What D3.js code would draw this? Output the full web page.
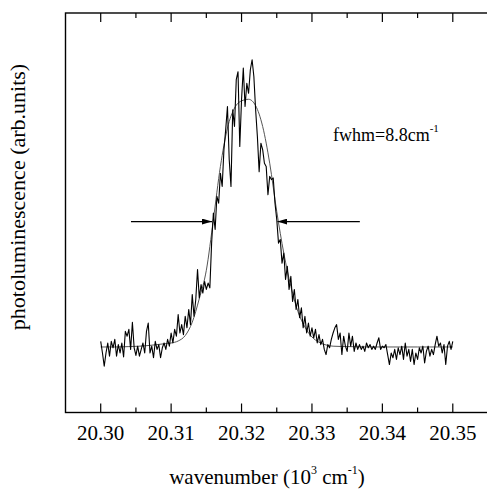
<!DOCTYPE html>
<html>
<head>
<meta charset="utf-8">
<script src="https://cdn.jsdelivr.net/npm/d3@7"></script>
<style>
  body { margin: 0; background: #fff; }
  svg { display: block; font-family: "Liberation Serif", "Times New Roman", serif; }
</style>
</head>
<body>
<svg id="chart" width="487" height="489"></svg>
<script>
// measured spectrum, 20.300 .. 20.350 (10^3 cm-1), step 0.00025
const counts = [
  17.8, 14.9, 11.6, 14.9, 17.4, 14.1, 17.8, 16.2, 18.3, 14.1,
  17.0, 14.9, 17.4, 13.9, 20.3, 19.1, 20.8, 15.8, 22.6, 16.2,
  14.3, 16.6, 14.1, 15.8, 17.4, 14.9, 20.3, 22.4, 14.9, 16.6,
  13.7, 17.8, 15.8, 17.0, 13.7, 16.2, 17.4, 15.8, 18.3, 16.6,
  19.9,
  17.4, 20.8, 19.1, 24.5, 19.9, 22.0, 19.5, 24.1, 21.2, 25.8,
  22.0, 29.5, 24.1, 28.3, 35.8, 28.7, 32.0, 29.9, 32.8, 30.8,
  32.4, 31.2, 42.4, 49.9,
  45.8, 54.1, 52.4, 59.9, 56.6, 65.8, 70.8, 76.6, 63.3, 56.6,
  75.8, 71.6, 83.3, 85.3, 66.6, 78.3, 86.2, 76.6, 82.4, 79.9,
  85.8, 88.3, 84.1, 75.8, 69.1, 60.3, 67.4, 65.8, 62.4, 61.6,
  54.5, 59.1,
  58.3, 58.7, 52.4, 48.3, 42.4, 43.3, 37.4, 39.9, 33.3, 36.6,
  30.8, 34.1, 27.8, 30.8, 25.8, 28.3, 23.7, 26.2, 21.2, 24.1,
  19.9, 22.4, 19.1, 21.2, 18.7, 20.8, 17.4, 19.5, 17.0, 18.3,
  15.8, 14.5, 17.0, 16.2,
  18.3, 19.9, 21.2, 22.0, 18.3, 19.9, 14.5, 19.1, 16.6, 15.3,
  19.9, 16.6, 19.1, 15.3, 17.4, 15.8, 17.0, 15.8, 16.6, 15.3,
  17.4, 16.2, 17.0, 15.8, 16.6, 15.8, 17.4, 18.7, 15.8, 16.6,
  16.2, 17.0, 14.5, 12.0, 14.9, 13.7, 15.8, 13.3, 16.2, 14.5,
  16.6, 13.3, 17.4, 14.1, 15.8, 12.8, 15.8, 12.0, 14.9, 13.3,
  16.2, 14.9, 16.6, 12.4, 15.3, 16.6, 14.1, 15.8, 14.5, 17.0,
  19.1, 16.6, 17.4, 14.9, 17.0, 12.0, 16.6, 17.8, 15.8, 17.8
];
const scanStart = 20.300;
const scanStep = 0.00025;

// fitted line shape
const fitX = [20.300, 20.302, 20.304, 20.306, 20.307, 20.308, 20.309, 20.310, 20.311,
  20.312, 20.313, 20.314, 20.315, 20.316, 20.317, 20.318, 20.319, 20.320, 20.321,
  20.322, 20.323, 20.324, 20.325, 20.326, 20.327, 20.328, 20.329, 20.330, 20.331,
  20.332, 20.333, 20.335, 20.340, 20.345, 20.350];
const fitY = [16.4, 16.4, 16.5, 16.65, 16.8, 17.0, 17.2, 17.4, 17.9,
  19.25, 22.6, 28.5, 35.6, 48.3, 61.6, 71.2, 76.2, 78.0, 78.4,
  76.8, 71.6, 62.4, 50.3, 39.9, 31.6, 25.3, 21.4, 18.9, 17.6,
  16.9, 16.6, 16.5, 16.4, 16.4, 16.4];

const xTicks = [20.30, 20.31, 20.32, 20.33, 20.34, 20.35];
const xMinorTicks = [20.305, 20.315, 20.325, 20.335, 20.345];

// half-maximum markers
const fwhmArrows = [
  {from: 20.3043, to: 20.3158, level: 47.8},
  {from: 20.3368, to: 20.3251, level: 47.8}
];

class Spectrum {
  constructor(_config) {
    this.config = {
      parentElement: _config.parentElement,
      left: 65.5, right: 488, top: 13, bottom: 412.5
    };
    this.initVis();
  }

  initVis() {
    let vis = this;
    vis.svg = d3.select(vis.config.parentElement);

    vis.xScale = d3.scaleLinear()
      .domain([20.295, 20.355])
      .range([vis.config.left, vis.config.right]);
    vis.yScale = d3.scaleLinear()
      .domain([0, 100])
      .range([vis.config.bottom, vis.config.top]);

    vis.svg.append('defs').append('marker')
      .attr('id', 'head')
      .attr('viewBox', '0 0 10 6')
      .attr('refX', 10).attr('refY', 3)
      .attr('markerWidth', 10).attr('markerHeight', 6)
      .attr('markerUnits', 'userSpaceOnUse')
      .attr('orient', 'auto')
      .append('path').attr('d', 'M0,0L10,3L0,6Z').attr('fill', '#000');

    vis.updateVis();
  }

  updateVis() {
    let vis = this;
    const c = vis.config;
    const x = vis.xScale, y = vis.yScale;

    // ticks, bottom and top, pointing inward
    const tickG = vis.svg.append('g').attr('stroke', '#000').attr('stroke-width', 1.2);
    xTicks.forEach(t => {
      tickG.append('line').attr('x1', x(t)).attr('x2', x(t)).attr('y1', c.bottom).attr('y2', c.bottom - 9);
      tickG.append('line').attr('x1', x(t)).attr('x2', x(t)).attr('y1', c.top).attr('y2', c.top + 9);
    });
    xMinorTicks.forEach(t => {
      tickG.append('line').attr('x1', x(t)).attr('x2', x(t)).attr('y1', c.bottom).attr('y2', c.bottom - 5);
      tickG.append('line').attr('x1', x(t)).attr('x2', x(t)).attr('y1', c.top).attr('y2', c.top + 5);
    });

    vis.svg.append('rect')
      .attr('x', c.left).attr('y', c.top)
      .attr('width', c.right - c.left).attr('height', c.bottom - c.top)
      .attr('fill', 'none').attr('stroke', '#000').attr('stroke-width', 1.4);

    vis.svg.append('g').selectAll('text')
      .data(xTicks)
      .join('text')
      .attr('x', d => x(d))
      .attr('y', 440)
      .attr('text-anchor', 'middle')
      .attr('font-size', 21)
      .text(d => d.toFixed(2));

    // fit
    const fitLine = d3.line().x((d, i) => x(fitX[i])).y(d => y(d)).curve(d3.curveMonotoneX);
    vis.svg.append('path')
      .attr('d', fitLine(fitY))
      .attr('fill', 'none').attr('stroke', '#555').attr('stroke-width', 1);

    // data
    const dataLine = d3.line().x((d, i) => x(scanStart + i * scanStep)).y(d => y(d));
    vis.svg.append('path')
      .attr('d', dataLine(counts))
      .attr('fill', 'none').attr('stroke', '#000').attr('stroke-width', 1.1)
      .attr('stroke-linejoin', 'round');

    vis.svg.append('g').selectAll('line')
      .data(fwhmArrows)
      .join('line')
      .attr('x1', d => x(d.from)).attr('x2', d => x(d.to))
      .attr('y1', d => y(d.level)).attr('y2', d => y(d.level))
      .attr('stroke', '#000').attr('stroke-width', 1.3)
      .attr('marker-end', 'url(#head)');

    const note = vis.svg.append('text').attr('x', 333).attr('y', 141).attr('font-size', 18);
    note.append('tspan').text('fwhm=8.8cm');
    note.append('tspan').attr('font-size', 11).attr('dy', -9).text('-1');

    const xl = vis.svg.append('text').attr('x', 267).attr('y', 484)
      .attr('text-anchor', 'middle').attr('font-size', 21);
    xl.append('tspan').text('wavenumber (10');
    xl.append('tspan').attr('font-size', 12).attr('dy', -10).text('3');
    xl.append('tspan').attr('dy', 10).text(' cm');
    xl.append('tspan').attr('font-size', 12).attr('dy', -10).text('-1');
    xl.append('tspan').attr('dy', 10).text(')');

    vis.svg.append('text')
      .attr('transform', 'translate(25,197) rotate(-90)')
      .attr('text-anchor', 'middle')
      .attr('font-size', 22)
      .text('photoluminescence (arb.units)');
  }
}

new Spectrum({parentElement: '#chart'});
</script>
</body>
</html>
